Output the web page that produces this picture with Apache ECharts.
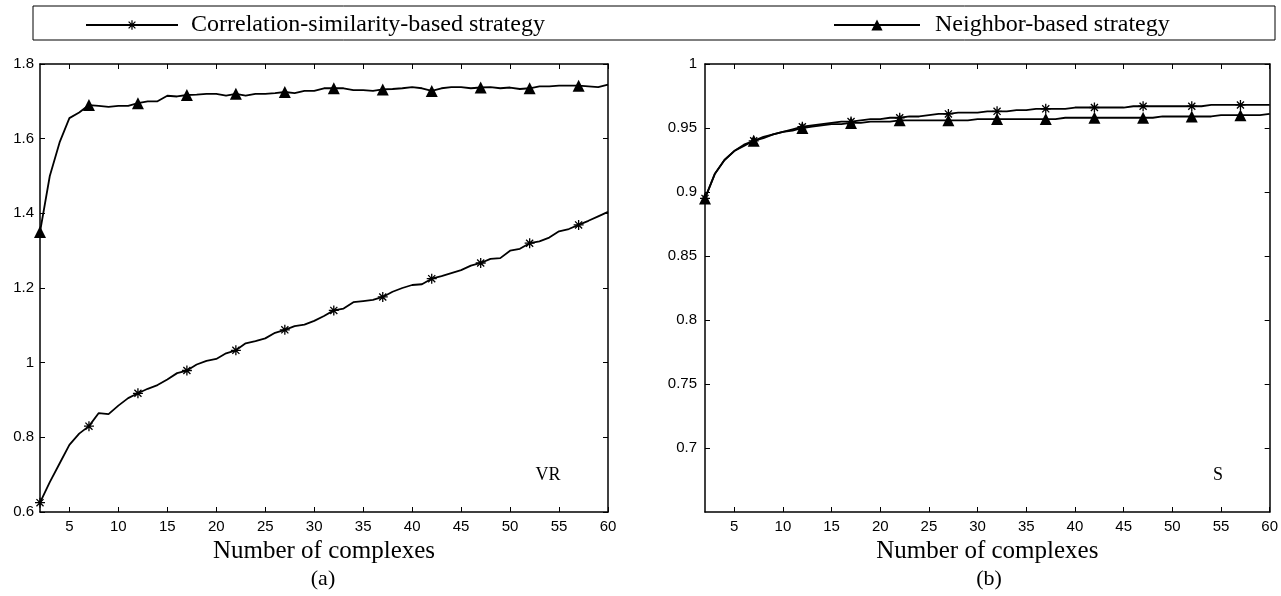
<!DOCTYPE html>
<html>
<head>
<meta charset="utf-8">
<script src="https://cdn.jsdelivr.net/npm/echarts@6/dist/echarts.min.js"></script>
<style>html,body{margin:0;padding:0;background:#fff}#c{width:1281px;height:596px}</style>
</head>
<body>
<div id="c"></div>
<script>
const xs = [2,3,4,5,6,7,8,9,10,11,12,13,14,15,16,17,18,19,20,21,22,23,24,25,26,27,28,29,30,31,32,33,34,35,36,37,38,39,40,41,42,43,44,45,46,47,48,49,50,51,52,53,54,55,56,57,58,59,60];
const xTicks = [5,10,15,20,25,30,35,40,45,50,55,60];
const sTicks = [0.7,0.75,0.8,0.85,0.9,0.95,1];

const vrCorr = [0.625,0.68,0.73,0.78,0.81,0.83,0.865,0.862,0.885,0.905,0.918,0.93,0.94,0.955,0.972,0.979,0.995,1.005,1.01,1.025,1.033,1.052,1.058,1.065,1.08,1.088,1.098,1.102,1.112,1.125,1.14,1.145,1.162,1.165,1.168,1.176,1.19,1.2,1.208,1.21,1.225,1.232,1.24,1.248,1.26,1.267,1.278,1.28,1.3,1.305,1.32,1.325,1.335,1.352,1.358,1.369,1.38,1.392,1.404];
const vrNeigh = [1.35,1.5,1.59,1.655,1.67,1.69,1.688,1.685,1.688,1.688,1.695,1.70,1.70,1.715,1.713,1.717,1.718,1.72,1.72,1.715,1.72,1.715,1.72,1.72,1.722,1.725,1.722,1.728,1.728,1.735,1.735,1.735,1.73,1.73,1.728,1.732,1.733,1.735,1.738,1.735,1.728,1.735,1.738,1.738,1.735,1.737,1.738,1.735,1.737,1.733,1.735,1.74,1.74,1.742,1.742,1.742,1.74,1.738,1.745];
const sCorr = [0.895,0.914,0.925,0.932,0.936,0.940,0.942,0.945,0.947,0.949,0.951,0.952,0.953,0.954,0.955,0.955,0.956,0.957,0.957,0.958,0.958,0.959,0.959,0.960,0.961,0.961,0.962,0.962,0.962,0.963,0.963,0.963,0.964,0.964,0.965,0.965,0.965,0.965,0.966,0.966,0.966,0.966,0.966,0.966,0.967,0.967,0.967,0.967,0.967,0.967,0.967,0.967,0.968,0.968,0.968,0.968,0.968,0.968,0.968];
const sNeigh = [0.895,0.914,0.925,0.932,0.937,0.940,0.943,0.945,0.947,0.948,0.950,0.951,0.952,0.953,0.953,0.954,0.954,0.955,0.955,0.955,0.956,0.956,0.956,0.956,0.956,0.956,0.956,0.956,0.957,0.957,0.957,0.957,0.957,0.957,0.957,0.957,0.957,0.958,0.958,0.958,0.958,0.958,0.958,0.958,0.958,0.958,0.958,0.959,0.959,0.959,0.959,0.959,0.959,0.960,0.960,0.960,0.960,0.960,0.961];

const NAME_CORR = 'Correlation-similarity-based strategy';
const NAME_NEIGH = 'Neighbor-based strategy';

const STAR = 'path://M-1.3,-10L1.3,-10L1.3,10L-1.3,10Z M-10,-1.3L10,-1.3L10,1.3L-10,1.3Z M-6.15,-8L8,6.15L6.15,8L-8,-6.15Z M-8,6.15L6.15,-8L8,-6.15L-6.15,8Z';

function build(ys) {
  return xs.map((x, i) => (i % 5 === 0) ? [x, ys[i]] : { value: [x, ys[i]], symbol: 'none' });
}

const tickLbl = { fontFamily: 'Liberation Sans', fontSize: 15, color: '#000' };
const axLine = { show: true, lineStyle: { color: '#000', width: 1.5 } };

function xPair(gi) {
  return [
    { type: 'value', gridIndex: gi, position: 'bottom', min: 2, max: 60,
      axisLine: axLine, splitLine: { show: false },
      axisTick: { show: true, inside: true, length: 5, customValues: xTicks, lineStyle: { color: '#000' } },
      axisLabel: Object.assign({ customValues: xTicks, margin: 7 }, tickLbl),
      name: 'Number of complexes', nameLocation: 'middle', nameGap: 25,
      nameTextStyle: { fontFamily: 'Liberation Serif', fontSize: 25, color: '#000' } },
    { type: 'value', gridIndex: gi, position: 'top', min: 2, max: 60,
      axisLine: axLine, splitLine: { show: false },
      axisTick: { show: true, inside: true, length: 5, customValues: xTicks, lineStyle: { color: '#000' } },
      axisLabel: { show: false } }
  ];
}

const option = {
  animation: false,
  backgroundColor: '#fff',
  grid: [
    { left: 40, right: 673, top: 64, bottom: 84 },
    { left: 705, right: 8, top: 64, bottom: 84 }
  ],
  legend: [
    { left: 80, top: 8, itemWidth: 92, itemHeight: 12, selectedMode: false,
      data: [NAME_CORR], textStyle: { fontFamily: 'Liberation Serif', fontSize: 24, color: '#000', padding: [0,0,0,8] } },
    { left: 828, top: 8, itemWidth: 86, itemHeight: 14, selectedMode: false,
      data: [NAME_NEIGH], textStyle: { fontFamily: 'Liberation Serif', fontSize: 24, color: '#000', padding: [0,0,0,10] } }
  ],
  xAxis: xPair(0).concat(xPair(1)),
  yAxis: [
    { type: 'value', gridIndex: 0, position: 'left', min: 0.6, max: 1.8, interval: 0.2,
      axisLine: axLine, splitLine: { show: false },
      axisTick: { show: true, inside: true, length: 5, lineStyle: { color: '#000' } },
      axisLabel: Object.assign({ margin: 6 }, tickLbl) },
    { type: 'value', gridIndex: 0, position: 'right', min: 0.6, max: 1.8, interval: 0.2,
      axisLine: axLine, splitLine: { show: false },
      axisTick: { show: true, inside: true, length: 5, lineStyle: { color: '#000' } },
      axisLabel: { show: false } },
    { type: 'value', gridIndex: 1, position: 'left', min: 0.65, max: 1,
      axisLine: axLine, splitLine: { show: false },
      axisTick: { show: true, inside: true, length: 5, customValues: sTicks, lineStyle: { color: '#000' } },
      axisLabel: Object.assign({ customValues: sTicks, margin: 8 }, tickLbl) },
    { type: 'value', gridIndex: 1, position: 'right', min: 0.65, max: 1,
      axisLine: axLine, splitLine: { show: false },
      axisTick: { show: true, inside: true, length: 5, customValues: sTicks, lineStyle: { color: '#000' } },
      axisLabel: { show: false } }
  ],
  series: [
    { name: NAME_CORR, type: 'line', xAxisIndex: 0, yAxisIndex: 0, data: build(vrCorr),
      symbol: STAR, symbolSize: 10, showAllSymbol: true, color: '#000',
      lineStyle: { color: '#000', width: 1.8 }, itemStyle: { color: '#000' }, z: 3 },
    { name: NAME_NEIGH, type: 'line', xAxisIndex: 0, yAxisIndex: 0, data: build(vrNeigh),
      symbol: 'triangle', symbolSize: 12, showAllSymbol: true, color: '#000',
      lineStyle: { color: '#000', width: 1.8 }, itemStyle: { color: '#000' }, z: 3 },
    { name: NAME_CORR, type: 'line', xAxisIndex: 2, yAxisIndex: 2, data: build(sCorr),
      symbol: STAR, symbolSize: 10, showAllSymbol: true, color: '#000',
      lineStyle: { color: '#000', width: 1.8 }, itemStyle: { color: '#000' }, z: 3 },
    { name: NAME_NEIGH, type: 'line', xAxisIndex: 2, yAxisIndex: 2, data: build(sNeigh),
      symbol: 'triangle', symbolSize: 12, showAllSymbol: true, color: '#000',
      lineStyle: { color: '#000', width: 1.8 }, itemStyle: { color: '#000' }, z: 3 }
  ],
  graphic: [
    { type: 'rect', shape: { x: 33, y: 6, width: 1242, height: 34 }, style: { fill: 'none', stroke: '#000', lineWidth: 1 }, silent: true },
    { type: 'text', x: 548, y: 475, style: { text: 'VR', fontFamily: 'Liberation Serif', fontSize: 18, fill: '#000', align: 'center', verticalAlign: 'middle' } },
    { type: 'text', x: 1218, y: 475, style: { text: 'S', fontFamily: 'Liberation Serif', fontSize: 18, fill: '#000', align: 'center', verticalAlign: 'middle' } },
    { type: 'text', x: 323, y: 579, style: { text: '(a)', fontFamily: 'Liberation Serif', fontSize: 22, fill: '#000', align: 'center', verticalAlign: 'middle' } },
    { type: 'text', x: 989, y: 579, style: { text: '(b)', fontFamily: 'Liberation Serif', fontSize: 22, fill: '#000', align: 'center', verticalAlign: 'middle' } }
  ]
};
const chart = echarts.init(document.getElementById('c'));
chart.setOption(option);
</script>
</body>
</html>
